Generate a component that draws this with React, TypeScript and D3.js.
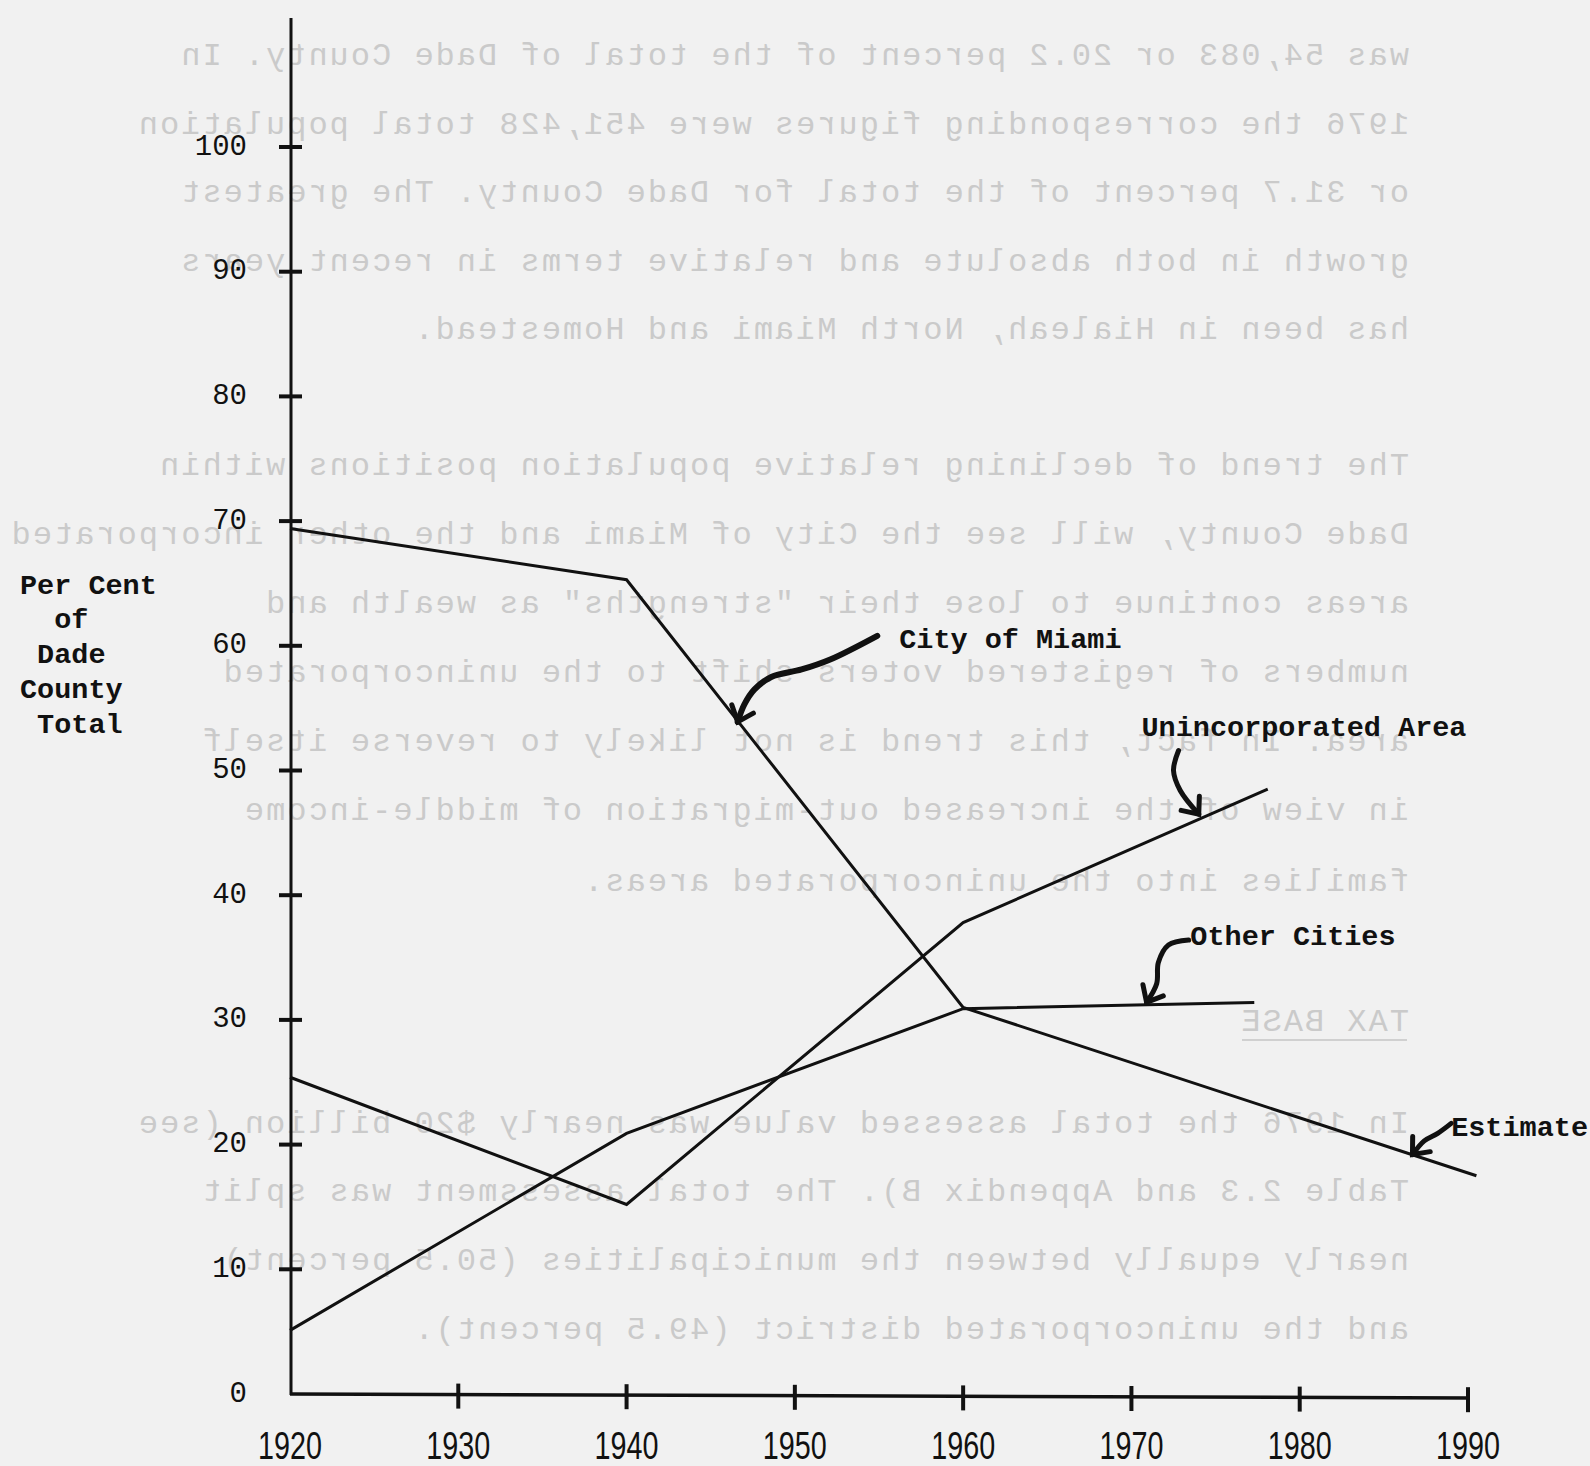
import React from "react";
import * as d3 from "d3";

// ---- data ----
const xTickYears = [1920, 1930, 1940, 1950, 1960, 1970, 1980, 1990];
const yTickValues = [10, 20, 30, 40, 50, 60, 70, 80, 90, 100];
const yLabelValues = [0, 10, 20, 30, 40, 50, 60, 70, 80, 90, 100];

const miamiYears = [1920, 1940, 1960, 1990.5];
const miamiValues = [69.4, 65.3, 31.0, 17.5];
const unincYears = [1920, 1940, 1960, 1978.1];
const unincValues = [25.4, 15.2, 37.8, 48.5];
const otherYears = [1920, 1940, 1960, 1977.3];
const otherValues = [5.1, 20.9, 30.9, 31.4];

const yTitleLines = ["Per Cent", "  of", " Dade", "County", " Total"];

// annotations in data space [year, percent]
const labelCity = { text: "City of Miami", at: [1956.2, 60.4] };
const labelUninc = { text: "Unincorporated Area", at: [1970.6, 53.4] };
const labelOther = { text: "Other Cities", at: [1973.5, 36.6] };
const labelEstimate = { text: "Estimate", at: [1989.0, 21.3] };

const arrowCity = [[1954.9, 60.8], [1952.1, 58.9], [1950.4, 58.1], [1948.6, 57.5], [1947.6, 56.5], [1947.0, 55.3], [1946.6, 53.9]];
const arrowUninc = [[1972.8, 51.6], [1972.5, 50.0], [1972.9, 48.4], [1974.0, 46.5]];
const arrowOther = [[1973.4, 36.4], [1972.2, 36.0], [1971.6, 34.6], [1971.5, 32.9], [1970.9, 31.4]];
const arrowEstimate = [[1989.0, 21.7], [1988.2, 20.9], [1987.4, 20.3], [1986.7, 19.2]];

// faint show-through text from the other side of the page (seen mirrored)
const bleedLines = [
  "was 54,083 or 20.2 percent of the total of Dade County.  In",
  "1976 the corresponding figures were 451,428 total population",
  "or 31.7 percent of the total for Dade County. The greatest",
  "growth in both absolute and relative terms in recent years",
  "has been in Hialeah, North Miami and Homestead.",
  "The trend of declining relative population positions within",
  "Dade County, will see the City of Miami and the other incorporated",
  "areas continue to lose their \"strengths\" as wealth and",
  "numbers of registered voters shift to the unincorporated",
  "area. In fact, this trend is not likely to reverse itself",
  "in view of the increased out-migration of middle-income",
  "families into the unincorporated areas.",
  "TAX BASE",
  "In 1976 the total assessed value was nearly $20 billion (see",
  "Table 2.3 and Appendix B). The total assessment was split",
  "nearly equally between the municipalities (50.5 percent)",
  "and the unincorporated district (49.5 percent).",
];
const bleedY = [56, 125, 193, 262, 330, 466, 535, 604, 673, 742, 811, 882, 1022, 1124, 1192, 1261, 1330];

// ---- layout ----
const W = 1590;
const H = 1466;
const AXIS_TOP = 18;
const INK = "#111";
const MONO = "'Liberation Mono', 'DejaVu Sans Mono', monospace";

const x = d3.scaleLinear().domain([1920, 1990]).range([290, 1468]);
const y = d3.scaleLinear().domain([0, 100]).range([1394, 147]);

function pts(years: number[], vals: number[]): [number, number][] {
  return years.map((yr, i) => [x(yr), y(vals[i])]);
}

const lineGen = d3.line<[number, number]>().x((d) => d[0]).y((d) => d[1]);
const curveGen = d3
  .line<[number, number]>()
  .x((d) => d[0])
  .y((d) => d[1])
  .curve(d3.curveCatmullRom.alpha(0.5));

function Arrow({ data, width }: { data: number[][]; width: number }) {
  const p = data.map((d) => [x(d[0]), y(d[1])] as [number, number]);
  const tip = p[p.length - 1];
  const prev = p[p.length - 2];
  const dx = prev[0] - tip[0];
  const dy = prev[1] - tip[1];
  const len = Math.hypot(dx, dy);
  const ux = dx / len;
  const uy = dy / len;
  const L = 18;
  const a = (40 * Math.PI) / 180;
  const b1 = [tip[0] + L * (ux * Math.cos(a) - uy * Math.sin(a)), tip[1] + L * (ux * Math.sin(a) + uy * Math.cos(a))];
  const b2 = [tip[0] + L * (ux * Math.cos(-a) - uy * Math.sin(-a)), tip[1] + L * (ux * Math.sin(-a) + uy * Math.cos(-a))];
  return (
    <g>
      <path d={curveGen(p) || ""} fill="none" stroke={INK} strokeWidth={width} strokeLinecap="round" />
      <path
        d={`M${b1[0]},${b1[1]}L${tip[0]},${tip[1]}L${b2[0]},${b2[1]}`}
        fill="none"
        stroke={INK}
        strokeWidth={5}
        strokeLinejoin="miter"
        strokeLinecap="round"
      />
    </g>
  );
}

function Label({ item }: { item: { text: string; at: number[] } }) {
  return (
    <text
      x={x(item.at[0])}
      y={y(item.at[1])}
      dominantBaseline="central"
      fontFamily={MONO}
      fontWeight="bold"
      fontSize={28.5}
      fill={INK}
    >
      {item.text}
    </text>
  );
}

export default function App() {
  const y0 = y(0);
  const axisX = x(1920) + 1;
  return (
    <svg
      width={W}
      height={H}
      viewBox={`0 0 ${W} ${H}`}
      style={{ position: "absolute", left: 0, top: 0, display: "block" }}
    >
      <rect x={0} y={0} width={W} height={H} fill="#f1f1f1" />

      {/* show-through text, mirrored */}
      <g fontFamily={MONO} fontSize={32} letterSpacing={2} fill="#cacaca" style={{ whiteSpace: "pre" }}>
        {bleedLines.map((t, i) => (
          <text
            key={i}
            transform={`translate(1409,${bleedY[i]}) scale(-1,1)`}
            textAnchor="start"
            dominantBaseline="central"
          >
            {t}
          </text>
        ))}
        <line x1={1242} x2={1407} y1={1040} y2={1040} stroke="#d0d0d0" strokeWidth={2} />
      </g>

      {/* axes */}
      <line x1={axisX} x2={axisX} y1={AXIS_TOP} y2={y0 + 1} stroke={INK} strokeWidth={3} />
      <line x1={axisX - 1} x2={x(1990) + 2} y1={y0} y2={y0 + 4} stroke={INK} strokeWidth={3.5} />

      {yTickValues.map((v) => (
        <line key={v} x1={axisX - 12} x2={axisX + 11} y1={y(v)} y2={y(v)} stroke={INK} strokeWidth={4} />
      ))}
      {xTickYears.slice(1).map((yr, i) => (
        <line
          key={yr}
          x1={x(yr)}
          x2={x(yr)}
          y1={y0 - 11 + (i + 1) * 0.6}
          y2={y0 + 14 + (i + 1) * 0.6}
          stroke={INK}
          strokeWidth={4}
        />
      ))}

      {yLabelValues.map((v) => (
        <text
          key={v}
          x={247}
          y={y(v)}
          textAnchor="end"
          dominantBaseline="central"
          fontFamily={MONO}
          fontSize={29}
          fill={INK}
        >
          {v}
        </text>
      ))}

      {xTickYears.map((yr) => (
        <text
          key={yr}
          x={x(yr)}
          y={1459}
          textAnchor="middle"
          fontFamily="'Liberation Sans Narrow', 'Liberation Sans', sans-serif"
          fontSize={39}
          textLength={64}
          lengthAdjust="spacingAndGlyphs"
          fill={INK}
        >
          {yr}
        </text>
      ))}

      {/* y title */}
      {yTitleLines.map((t, i) => (
        <text
          key={i}
          x={20}
          y={586 + i * 34.8}
          textAnchor="start"
          dominantBaseline="central"
          fontFamily={MONO}
          fontWeight="bold"
          fontSize={28.5}
          fill={INK}
          style={{ whiteSpace: "pre" }}
        >
          {t}
        </text>
      ))}

      {/* data lines */}
      <g fill="none" stroke={INK} strokeWidth={3} strokeLinejoin="miter">
        <path d={lineGen(pts(miamiYears, miamiValues)) || ""} />
        <path d={lineGen(pts(unincYears, unincValues)) || ""} />
        <path d={lineGen(pts(otherYears, otherValues)) || ""} />
      </g>

      {/* annotations */}
      <Arrow data={arrowCity} width={6} />
      <Arrow data={arrowUninc} width={5} />
      <Arrow data={arrowOther} width={5} />
      <Arrow data={arrowEstimate} width={5} />
      <Label item={labelCity} />
      <Label item={labelUninc} />
      <Label item={labelOther} />
      <Label item={labelEstimate} />
    </svg>
  );
}
